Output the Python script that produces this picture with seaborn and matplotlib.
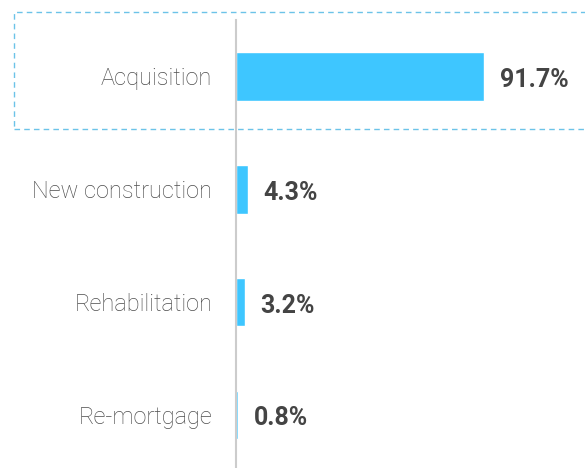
import matplotlib
matplotlib.use("Agg")
import matplotlib.pyplot as plt
import seaborn as sns
import pandas as pd
from matplotlib.patches import Rectangle

categories = ["Acquisition", "New construction", "Rehabilitation", "Re-mortgage"]
shares = [91.7, 4.3, 3.2, 0.8]
value_labels = ["91.7%", "4.3%", "3.2%", "0.8%"]

df = pd.DataFrame({"purpose": categories, "share": shares})

sns.set_style("white")
plt.rcParams["font.family"] = ["Roboto", "DejaVu Sans"]

fig = plt.figure(figsize=(5.85, 4.68), dpi=100)
ax = fig.add_axes([236 / 585, 0.0, 1 - 236 / 585, 1 - 20 / 468])

sns.barplot(data=df, y="purpose", x="share", orient="h", color="#3ec6ff",
            saturation=1, width=0.43, ax=ax)

for i, (v, lab) in enumerate(zip(shares, value_labels)):
    ax.annotate(lab, xy=(v, i), xytext=(11.5, -2.5), textcoords="offset points",
                ha="left", va="center", fontsize=18, fontweight="bold",
                color="#444444")

ax.set_xlim(0, 129)
ax.set_ylim(3.47, -0.5)
ax.set_xlabel("")
ax.set_ylabel("")
ax.set_xticks([])
for side in ["top", "right", "bottom"]:
    ax.spines[side].set_visible(False)
ax.spines["left"].set_color("#cccccc")
ax.spines["left"].set_linewidth(1.5)
ax.tick_params(axis="y", length=0, pad=17, labelsize=17, labelcolor="#4d4d4d")
for t in ax.get_yticklabels():
    t.set_fontweight("light")

# dashed highlight around first row
box = Rectangle((14 / 585, 1 - 129 / 468), 1.0, (129 - 12) / 468,
                transform=fig.transFigure, fill=False, edgecolor="#6cc3e8",
                linestyle=(0, (4, 3)), linewidth=1, clip_on=False)
fig.patches.append(box)

fig.savefig("out.png", dpi=100)
